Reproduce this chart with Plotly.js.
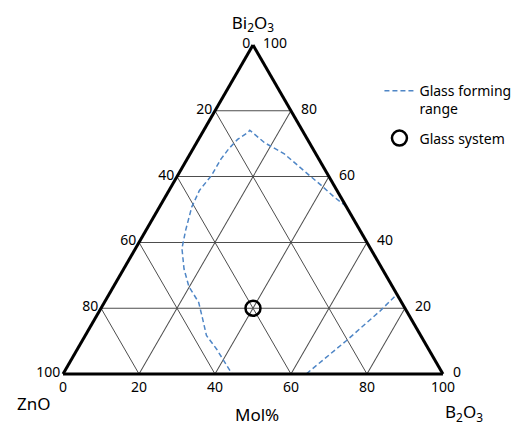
<!DOCTYPE html>
<html>
<head>
<meta charset="utf-8">
<script src="https://cdn.plot.ly/plotly-3.0.1.min.js"></script>
<style>
  html, body { margin: 0; padding: 0; background: #fff; }
  #chart { width: 527px; height: 429px; }
</style>
</head>
<body>
<div id="chart"></div>
<script>
// glass forming range, upper boundary (Bi2O3 / ZnO / B2O3, mol%)
const rangeBi2O3 = [51, 53.9, 57.4, 61.8, 66.9, 70.3, 74.1, 73.5, 71.3, 68.5, 65.3, 60.3, 55.8, 50.8, 43.8, 38.2, 31.9, 26.5, 21.8, 17.0, 11.7, 7.6, 0];
const rangeZnO   = [0, 1.8, 3.4, 5.7, 8.3, 11.8, 13.8, 14.5, 18.4, 22.1, 25.8, 30.8, 36.2, 40.7, 45.8, 49.6, 52.2, 53.6, 53.4, 54.8, 56.4, 55.8, 55.5];
const rangeB2O3  = [49, 44.3, 39.2, 32.5, 24.8, 17.9, 12.1, 12.0, 10.3, 9.4, 8.9, 8.9, 8.0, 8.5, 10.4, 12.2, 15.9, 19.9, 24.8, 28.2, 31.9, 36.6, 44.5];

// glass forming range, lower right boundary
const range2Bi2O3 = [23.5, 19.2, 10.1, 0];
const range2ZnO   = [1.0, 6.9, 20.4, 36.0];
const range2B2O3  = [75.5, 73.9, 69.5, 64.0];

// studied glass system
const sysBi2O3 = [20];
const sysZnO   = [40];
const sysB2O3  = [40];

const tickVals = [0, 20, 40, 60, 80, 100];
const tickText = ['100', '80', '60', '40', '20', '0'];

const lineColor = '#4f86c6';
const fontFam = 'Noto Sans, sans-serif';
const nb = '\u00a0';

const traces = [
    {
        type: 'scatterternary',
        mode: 'lines',
        a: rangeBi2O3, b: rangeZnO, c: rangeB2O3,
        name: 'Glass forming<br>range',
        legendgroup: 'range',
        line: {color: lineColor, width: 1.5, dash: '5px,3px'},
        hoverinfo: 'skip'
    },
    {
        type: 'scatterternary',
        mode: 'lines',
        a: range2Bi2O3, b: range2ZnO, c: range2B2O3,
        name: 'Glass forming range',
        legendgroup: 'range',
        showlegend: false,
        line: {color: lineColor, width: 1.5, dash: '5px,3px'},
        hoverinfo: 'skip'
    },
    {
        type: 'scatterternary',
        mode: 'markers',
        a: sysBi2O3, b: sysZnO, c: sysB2O3,
        name: 'Glass system',
        marker: {symbol: 'circle-open', size: 15, color: '#000', line: {width: 2.5, color: '#000'}}
    }
];

function axisOpts(title, labels){
    return {
        title: {text: title, font: {size: 17, color: '#000', family: fontFam}},
        tickmode: 'array',
        tickvals: tickVals,
        ticktext: labels,
        ticks: '',
        tickfont: {size: 14, color: '#000', family: fontFam},
        linecolor: '#000',
        linewidth: 3,
        showgrid: true,
        gridcolor: '#4d4d4d',
        gridwidth: 1,
        min: 0
    };
}

const titleFont = {size: 17, color: '#000', family: fontFam};

function label(text, x, y){
    return {text: text, xref: 'paper', yref: 'paper', x: x, y: y,
            xanchor: 'center', yanchor: 'middle', showarrow: false, font: titleFont};
}

const layout = {
    width: 527,
    height: 429,
    margin: {t: 0, b: 0, l: 0, r: 0},
    paper_bgcolor: '#fff',
    font: {family: fontFam, color: '#000'},
    ternary: {
        sum: 100,
        domain: {x: [0.1195, 0.8406], y: [0.1282, 0.8951]},
        bgcolor: '#fff',
        aaxis: axisOpts('Bi<sub>2</sub>O<sub>3</sub>', tickText),
        baxis: axisOpts('', tickText),
        caxis: axisOpts('', tickText.map(t => nb + nb + t))
    },
    legend: {
        x: 0.72, y: 0.825, xanchor: 'left', yanchor: 'top',
        valign: 'top',
        font: {size: 14, color: '#000', family: fontFam},
        bgcolor: 'rgba(0,0,0,0)',
        tracegroupgap: 8
    },
    annotations: [
        label('ZnO', 0.0645, 0.0606),
        label('B<sub>2</sub>O<sub>3</sub>', 0.880, 0.0396),
        label('Mol%', 0.487, 0.033)
    ],
    showlegend: true
};

Plotly.newPlot('chart', traces, layout, {displayModeBar: false, staticPlot: true});
</script>
</body>
</html>
